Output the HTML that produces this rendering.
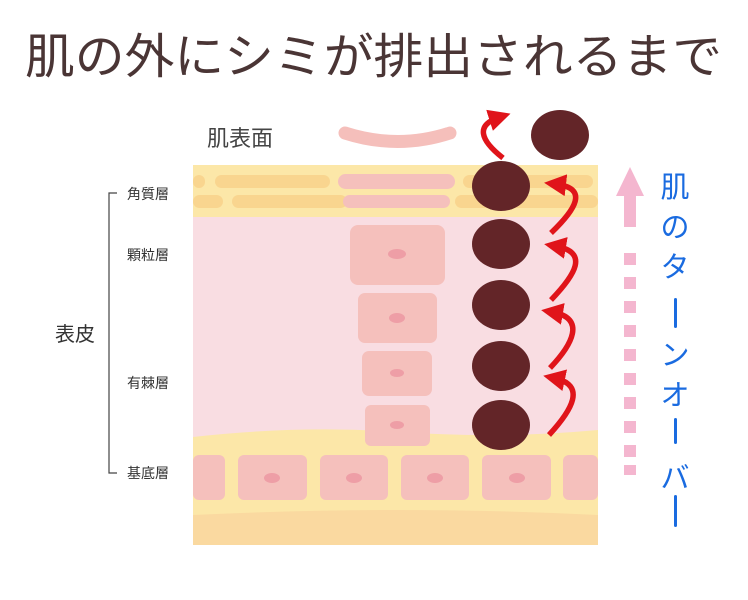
<!DOCTYPE html>
<html><head><meta charset="utf-8"><style>
html,body{margin:0;padding:0;background:#fff;width:748px;height:600px;overflow:hidden}
svg{display:block}
text{font-family:"Liberation Sans","Noto Sans CJK JP",sans-serif}
</style></head><body>
<svg width="748" height="600" viewBox="0 0 748 600" xmlns="http://www.w3.org/2000/svg">
<defs>
<marker id="ah" markerWidth="4" markerHeight="4" refX="2" refY="2" orient="auto" markerUnits="strokeWidth">
<path d="M0,0 L4,2 L0,4 z" fill="#e0141a"/></marker>
</defs>
<text x="25" y="73" font-size="48" fill="#4a3535" textLength="697" lengthAdjust="spacingAndGlyphs">肌の外にシミが排出されるまで</text>

<text x="207" y="146" font-size="22" fill="#444">肌表面</text>
<path d="M345,133 Q398,150 450,133" stroke="#f5bfbb" stroke-width="13" fill="none" stroke-linecap="round"/>

<rect x="193" y="165" width="405" height="380" fill="#fce7a8"/>
<rect x="193" y="217" width="405" height="220" fill="#f9dde2"/>
<path d="M193,437 Q300,425 400,432 T598,430 L598,440 L193,440 Z" fill="#fce7a8"/>
<path d="M193,515 Q400,505 598,515 L598,545 L193,545 Z" fill="#fad9a0"/>
<g fill="#f9d58f">
<rect x="193" y="175" width="12" height="13" rx="6"/>
<rect x="215" y="175" width="115" height="13" rx="6.5"/>
<rect x="463" y="175" width="130" height="13" rx="6.5"/>
<rect x="193" y="195" width="30" height="13" rx="6.5"/>
<rect x="232" y="195" width="115" height="13" rx="6.5"/>
<rect x="455" y="195" width="143" height="13" rx="6.5"/>
</g>
<g fill="#f5c0bc">
<rect x="338" y="174" width="117" height="15" rx="7.5"/>
<rect x="343" y="195" width="107" height="13" rx="6.5"/>
<rect x="350" y="225" width="95" height="60" rx="8"/>
<rect x="358" y="293" width="79" height="50" rx="7"/>
<rect x="362" y="351" width="70" height="45" rx="7"/>
<rect x="365" y="405" width="65" height="41" rx="6"/>
<rect x="193" y="455" width="32" height="45" rx="6"/>
<rect x="238" y="455" width="69" height="45" rx="6"/>
<rect x="320" y="455" width="68" height="45" rx="6"/>
<rect x="401" y="455" width="68" height="45" rx="6"/>
<rect x="482" y="455" width="69" height="45" rx="6"/>
<rect x="563" y="455" width="35" height="45" rx="6"/>
</g>
<g fill="#ee9ea6">
<ellipse cx="397" cy="254" rx="9" ry="5"/>
<ellipse cx="397" cy="318" rx="8" ry="5"/>
<ellipse cx="397" cy="373" rx="7" ry="4"/>
<ellipse cx="397" cy="425" rx="7" ry="4"/>
<ellipse cx="272" cy="478" rx="8" ry="5"/>
<ellipse cx="354" cy="478" rx="8" ry="5"/>
<ellipse cx="435" cy="478" rx="8" ry="5"/>
<ellipse cx="517" cy="478" rx="8" ry="5"/>
</g>

<g fill="#632528">
<ellipse cx="560" cy="135" rx="29" ry="25"/>
<ellipse cx="501" cy="186" rx="29" ry="25"/>
<ellipse cx="501" cy="244" rx="29" ry="25"/>
<ellipse cx="501" cy="305" rx="29" ry="25"/>
<ellipse cx="501" cy="366" rx="29" ry="25"/>
<ellipse cx="501" cy="425" rx="29" ry="25"/>
</g>
<g stroke="#e0141a" stroke-width="5.5" fill="none" marker-end="url(#ah)">
<path d="M503,158 C480,140 475,125 500,117"/>
<path d="M551,233 C575,210 590,188 555,184"/>
<path d="M551,300 C575,275 590,252 555,246"/>
<path d="M550,368 C572,345 587,318 552,312"/>
<path d="M549,435 C572,410 587,385 554,378"/>
</g>

<path d="M117,193 L109,193 L109,473 L117,473" stroke="#444" stroke-width="1.2" fill="none"/>
<g font-size="14" fill="#333">
<text x="127" y="199">角質層</text>
<text x="127" y="260">顆粒層</text>
<text x="127" y="388">有棘層</text>
<text x="127" y="478">基底層</text>
</g>
<text x="55" y="341" font-size="20" fill="#333">表皮</text>

<polygon points="630,167 616,196 644,196" fill="#f4b6cf"/>
<rect x="624" y="195" width="12" height="32" fill="#f4b6cf"/>
<g fill="#f4b6cf">
<rect x="624" y="253" width="12" height="12"/>
<rect x="624" y="277" width="12" height="12"/>
<rect x="624" y="301" width="12" height="12"/>
<rect x="624" y="325" width="12" height="12"/>
<rect x="624" y="349" width="12" height="12"/>
<rect x="624" y="373" width="12" height="12"/>
<rect x="624" y="397" width="12" height="12"/>
<rect x="624" y="421" width="12" height="12"/>
<rect x="624" y="445" width="12" height="12"/>
<rect x="624" y="465" width="12" height="10"/>
</g>
<g font-size="29" fill="#1a6be0" text-anchor="middle">
<text x="675" y="197">肌</text>
<text x="675" y="237">の</text>
<text x="675" y="277">タ</text>
<text x="675" y="365">ン</text>
<text x="675" y="405">オ</text>
<text x="675" y="488">バ</text>
</g>
<g fill="#1a6be0">
<rect x="674" y="298" width="3" height="30" rx="1.5"/>
<rect x="674" y="418" width="3" height="26" rx="1.5"/>
<rect x="674" y="495" width="3" height="32" rx="1.5"/>
</g>
</svg>
</body></html>
